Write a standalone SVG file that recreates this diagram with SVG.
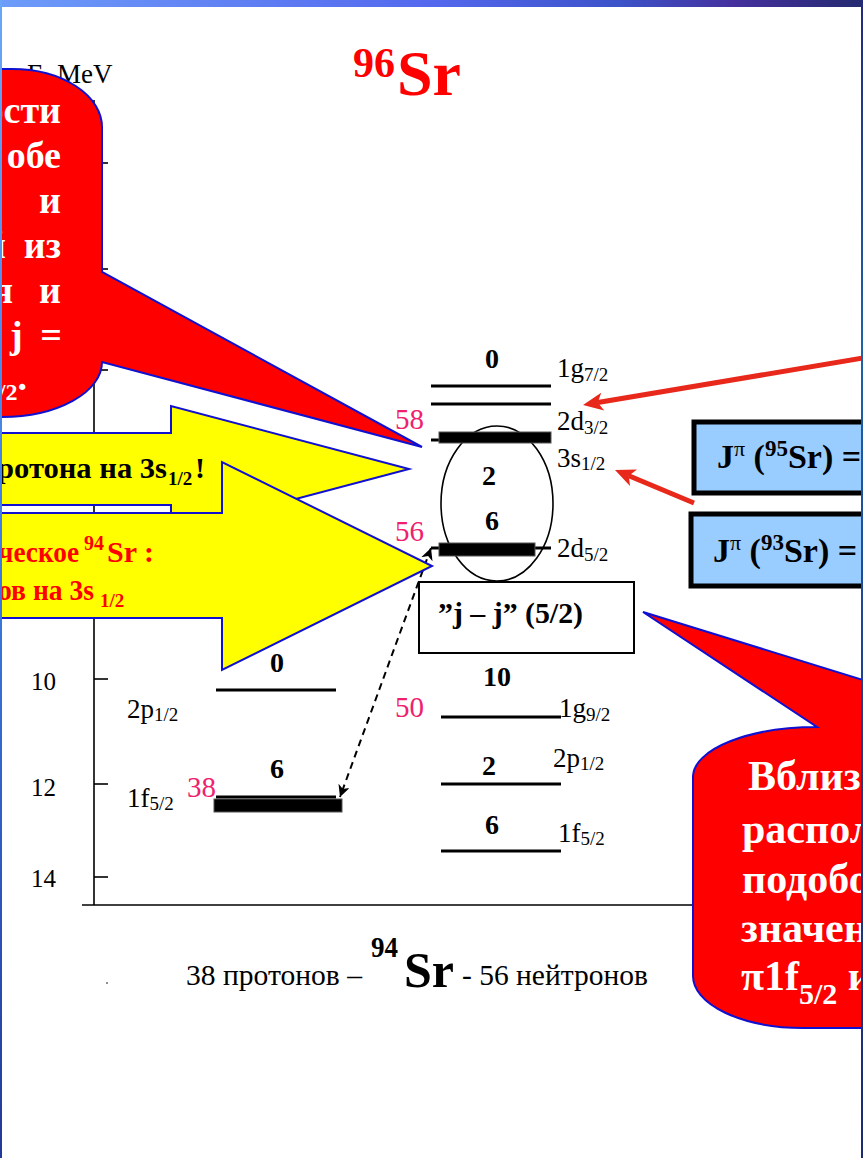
<svg xmlns="http://www.w3.org/2000/svg" width="863" height="1158" viewBox="0 0 863 1158" font-family="'Liberation Serif', 'Times New Roman', serif">
<defs>
<linearGradient id="gTop" x1="0" y1="0" x2="1" y2="0">
<stop offset="0" stop-color="#6d9cf9"/>
<stop offset="0.5" stop-color="#5468ee"/>
<stop offset="0.72" stop-color="#3c52c8"/>
<stop offset="0.85" stop-color="#45309e"/>
<stop offset="1" stop-color="#242a70"/>
</linearGradient>
<linearGradient id="gLeft" x1="0" y1="0" x2="0" y2="1">
<stop offset="0" stop-color="#6aa6f8"/>
<stop offset="0.5" stop-color="#3c7ae0"/>
<stop offset="1" stop-color="#22389a"/>
</linearGradient>
<linearGradient id="gRight" x1="0" y1="0" x2="0" y2="1">
<stop offset="0" stop-color="#23287a"/>
<stop offset="0.3" stop-color="#1e62a8"/>
<stop offset="0.6" stop-color="#1f3f90"/>
<stop offset="1" stop-color="#1c2a70"/>
</linearGradient>
<marker id="dashHead" viewBox="0 0 10 10" refX="10" refY="5" markerWidth="12" markerHeight="12" markerUnits="userSpaceOnUse" orient="auto-start-reverse">
<path d="M0,0 L10,5 L0,10 L3,5 Z" fill="#000"/>
</marker>
<style>
text { font-family: "Liberation Serif", "Times New Roman", serif; }
.b { font-weight: bold; }
.axis { stroke: #000; stroke-width: 1.6; fill: none; }
.lvl { stroke: #000; stroke-width: 3; }
.bar { fill: #000; stroke: #555; stroke-width: 1; }
.lab { font-size: 27px; fill: #000; }
.sub { font-size: 19px; }
.num { font-size: 28px; font-weight: bold; fill: #000; text-anchor: middle; }
.pink { font-size: 29px; fill: #f0206e; }
.tick { font-size: 25px; fill: #000; }
.callout { fill: #ff0000; stroke: #1010d0; stroke-width: 2; }
.yarrow { fill: #ffff00; stroke: #1010d0; stroke-width: 2; }
.redline { stroke: #e8281a; stroke-width: 5; fill: none; }
.redhead { fill: #e8281a; }
.jbox { fill: #99ccff; stroke: #000; stroke-width: 5; }
.wtext { fill: #fff; font-weight: bold; }
</style>
</defs>

<rect x="0" y="0" width="863" height="1158" fill="#fff"/>

<g id="axes">
<line class="axis" x1="94" y1="100" x2="94" y2="905"/>
<line class="axis" x1="82" y1="905" x2="700" y2="905" stroke-width="2"/>
<line class="axis" x1="94" y1="163" x2="108" y2="163"/>
<line class="axis" x1="94" y1="269" x2="108" y2="269"/>
<line class="axis" x1="94" y1="370" x2="108" y2="370"/>
<line class="axis" x1="94" y1="473" x2="108" y2="473"/>
<line class="axis" x1="94" y1="576" x2="108" y2="576"/>
<line class="axis" x1="94" y1="679" x2="108" y2="679"/>
<line class="axis" x1="94" y1="784" x2="108" y2="784"/>
<line class="axis" x1="94" y1="877" x2="108" y2="877"/>
<text class="tick" x="31" y="690">10</text>
<text class="tick" x="31" y="796">12</text>
<text class="tick" x="31" y="887">14</text>
<text x="27" y="83" font-size="27">E, MeV</text>
<circle cx="107" cy="983" r="0.8" fill="#000"/>
</g>

<g id="title">
<text x="353" y="77" font-size="42" class="b" fill="#ff0000">96</text>
<text x="397" y="95" font-size="64" class="b" fill="#ff0000">Sr</text>
</g>

<g id="protons">
<text class="num" x="277" y="672">0</text>
<line class="lvl" x1="216" y1="690" x2="336" y2="690"/>
<text class="lab" x="127" y="718">2p<tspan class="sub" dy="3">1/2</tspan></text>
<text class="num" x="277" y="778">6</text>
<line class="lvl" x1="216" y1="797" x2="336" y2="797"/>
<rect class="bar" x="214" y="799" width="128" height="13"/>
<text class="lab" x="127" y="807">1f<tspan class="sub" dy="3">5/2</tspan></text>
<text class="pink" x="187" y="797">38</text>
</g>

<g id="neutrons">
<ellipse cx="497" cy="503.5" rx="56" ry="77.5" fill="none" stroke="#000" stroke-width="1.6"/>
<text class="num" x="492" y="368">0</text>
<line class="lvl" x1="431" y1="386" x2="551" y2="386"/>
<text class="lab" x="557" y="377">1g<tspan class="sub" dy="4">7/2</tspan></text>
<line class="lvl" x1="431" y1="404" x2="551" y2="404"/>
<text class="lab" x="557" y="430">2d<tspan class="sub" dy="4">3/2</tspan></text>
<line class="lvl" x1="431" y1="440" x2="551" y2="440"/>
<rect class="bar" x="439" y="432" width="112" height="11"/>
<text class="pink" x="395" y="429">58</text>
<text class="lab" x="557" y="467">3s<tspan class="sub" dy="3">1/2</tspan></text>
<text class="num" x="489" y="485">2</text>
<text class="num" x="492" y="530">6</text>
<line class="lvl" x1="431" y1="548" x2="551" y2="548"/>
<rect class="bar" x="439" y="543" width="96" height="13"/>
<text class="pink" x="395" y="541">56</text>
<text class="lab" x="557" y="557">2d<tspan class="sub" dy="4">5/2</tspan></text>
<text class="num" x="497" y="686">10</text>
<text class="pink" x="395" y="717">50</text>
<line class="lvl" x1="441" y1="717" x2="561" y2="717"/>
<text class="lab" x="559" y="717">1g<tspan class="sub" dy="4">9/2</tspan></text>
<text class="num" x="489" y="775">2</text>
<line class="lvl" x1="441" y1="784" x2="561" y2="784"/>
<text class="lab" x="553" y="767">2p<tspan class="sub" dy="3">1/2</tspan></text>
<text class="num" x="492" y="834">6</text>
<line class="lvl" x1="441" y1="851" x2="561" y2="851"/>
<text class="lab" x="558" y="842">1f<tspan class="sub" dy="3">5/2</tspan></text>
</g>

<g id="jjbox">
<rect x="419" y="582" width="215" height="71" fill="#fff" stroke="#000" stroke-width="2"/>
<text x="438" y="623" font-size="29" class="b" textLength="145" lengthAdjust="spacingAndGlyphs">”j – j” (5/2)</text>
</g>

<g id="bottom-label">
<text x="186" y="985" font-size="30" textLength="176" lengthAdjust="spacingAndGlyphs">38 протонов –</text>
<text x="371" y="957" font-size="30" class="b" textLength="27" lengthAdjust="spacingAndGlyphs">94</text>
<text x="404" y="987" font-size="50" class="b" textLength="50" lengthAdjust="spacingAndGlyphs">Sr</text>
<text x="462" y="985" font-size="30" textLength="186" lengthAdjust="spacingAndGlyphs">- 56 нейтронов</text>
</g>

<g id="connectors">
<line x1="431" y1="548" x2="340" y2="797" stroke="#000" stroke-width="2" stroke-dasharray="7,5" marker-start="url(#dashHead)" marker-end="url(#dashHead)"/>
<line class="redline" x1="866" y1="357.5" x2="597.8" y2="402.5"/>
<polygon class="redhead" points="583,405 604.2,410.6 597.8,402.5 601.2,392.8"/>
<line class="redline" x1="694" y1="503" x2="628.8" y2="475.8"/>
<polygon class="redhead" points="615,470 637,469.4 628.8,475.8 630,486"/>
</g>

<g id="jpi95">
<rect class="jbox" x="694" y="422" width="185" height="71"/>
<text x="717" y="468" font-size="34" class="b">J<tspan font-size="22" font-weight="normal" dy="-12">π</tspan><tspan dy="12"> (</tspan><tspan font-size="23" dy="-12">95</tspan><tspan dy="12">Sr) =</tspan></text>
</g>
<g id="jpi93">
<rect class="jbox" x="691" y="514" width="185" height="72"/>
<text x="713" y="562" font-size="34" class="b">J<tspan font-size="22" font-weight="normal" dy="-12">π</tspan><tspan dy="12"> (</tspan><tspan font-size="23" dy="-12">93</tspan><tspan dy="12">Sr) =</tspan></text>
</g>

<g id="arrow-proton">
<polygon class="yarrow" points="-10,433 171,433 171,406 409,469 171,532 171,505 -10,505"/>
<text x="-3" y="478" font-size="30" class="b" textLength="170" lengthAdjust="spacingAndGlyphs">ротона на 3s</text>
<text x="168" y="485" font-size="19" class="b">1/2</text>
<text x="195" y="478" font-size="30" class="b">!</text>
</g>

<g id="arrow-neutron">
<polygon class="yarrow" points="-10,513 222,513 222,462 432,566 222,670 222,618 -10,618"/>
<text x="-2" y="562" font-size="30" class="b" fill="#ff0000" textLength="81" lengthAdjust="spacingAndGlyphs">ческое</text>
<text x="84" y="550" font-size="20" class="b" fill="#ff0000">94</text>
<text x="107" y="562" font-size="30" class="b" fill="#ff0000">Sr :</text>
<text x="-2" y="600" font-size="30" class="b" fill="#ff0000" textLength="96" lengthAdjust="spacingAndGlyphs">ов на 3s</text>
<text x="100" y="607" font-size="19" class="b" fill="#ff0000">1/2</text>
</g>

<g id="callout-left">
<path class="callout" d="M -20,69 L 12,69 A 90 58 0 0 1 102,127 L 102,272 L 422,447 L 102,362 A 100 55 0 0 1 2,417 L -20,417 Z"/>
<text class="wtext" font-size="38" x="61" y="123" text-anchor="end">ости</text>
<text class="wtext" font-size="38" x="61" y="168" text-anchor="end">обе</text>
<text class="wtext" font-size="38" x="61" y="213" text-anchor="end">и</text>
<text class="wtext" font-size="38" x="6" y="258" text-anchor="end">й</text>
<text class="wtext" font-size="38" x="61" y="258" text-anchor="end">из</text>
<text class="wtext" font-size="38" x="13" y="303" text-anchor="end">я</text>
<text class="wtext" font-size="38" x="61" y="303" text-anchor="end">и</text>
<text class="wtext" font-size="38" x="10" y="348">j</text>
<text class="wtext" font-size="38" x="62" y="348" text-anchor="end">=</text>
<text class="wtext" font-size="38" x="27" y="390" text-anchor="end"><tspan font-size="24" dy="10">/2</tspan><tspan dy="-10">.</tspan></text>
</g>

<g id="callout-right">
<path class="callout" d="M 693,776 A 124 50 0 0 1 817,727 L 643,612 L 863,680 L 880,680 L 880,1028 L 803,1028 A 110 52 0 0 1 693,976 Z"/>
<text class="wtext" font-size="42" x="748" y="790">Вблиз</text>
<text class="wtext" font-size="42" x="742" y="843">распол</text>
<text class="wtext" font-size="42" x="742" y="893">подобо</text>
<text class="wtext" font-size="42" x="741" y="942">значен</text>
<text class="wtext" font-size="42" x="741" y="990">π1f<tspan font-size="30" dy="14">5/2</tspan><tspan dy="-14"> и</tspan></text>
</g>

<g id="frame">
<rect x="0" y="0" width="863" height="7" fill="url(#gTop)"/>
<rect x="0" y="0" width="2" height="1158" fill="url(#gLeft)"/>
<rect x="861" y="0" width="2" height="1158" fill="url(#gRight)"/>
</g>
</svg>
